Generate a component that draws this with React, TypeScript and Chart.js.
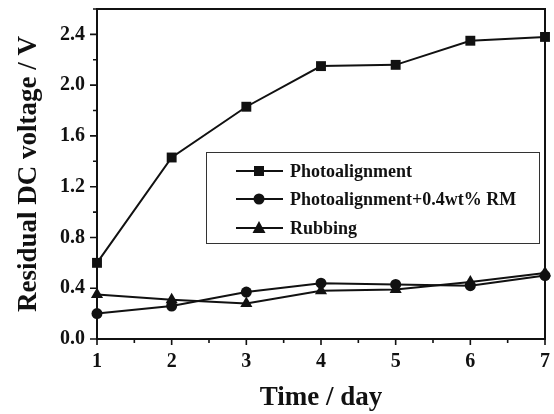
import React, { useEffect, useRef } from "react";
import { Chart, registerables } from "chart.js";

Chart.register(...registerables);

const days = [1, 2, 3, 4, 5, 6, 7];
const photoalignment = [0.6, 1.43, 1.83, 2.15, 2.16, 2.35, 2.38];
const photoalignmentRM = [0.2, 0.26, 0.37, 0.44, 0.43, 0.42, 0.5];
const rubbing = [0.35, 0.31, 0.28, 0.38, 0.39, 0.45, 0.52];
const seriesLabels = ["Photoalignment", "Photoalignment+0.4wt% RM", "Rubbing"];
const yMajorTicks = [0.0, 0.4, 0.8, 1.2, 1.6, 2.0, 2.4];
const yMinorTicks = [0.2, 0.6, 1.0, 1.4, 1.8, 2.2, 2.6];
const xMinorTicks = [1.5, 2.5, 3.5, 4.5, 5.5, 6.5];

const FONT = "'Liberation Serif', 'Times New Roman', serif";

const framePlugin = {
  id: "frame",
  afterDraw(chart: any) {
    const { ctx, chartArea } = chart;
    const { left, right, top, bottom } = chartArea;
    const xs = chart.scales.x;
    const ys = chart.scales.y;
    ctx.save();
    ctx.strokeStyle = "#111";
    ctx.lineWidth = 2;
    ctx.strokeRect(left, top, right - left, bottom - top);
    ctx.lineWidth = 1.6;
    ctx.beginPath();
    days.forEach((d) => {
      const px = xs.getPixelForValue(d);
      ctx.moveTo(px, bottom);
      ctx.lineTo(px, bottom + 6);
    });
    xMinorTicks.forEach((d) => {
      const px = xs.getPixelForValue(d);
      ctx.moveTo(px, bottom);
      ctx.lineTo(px, bottom + 4);
    });
    yMajorTicks.forEach((v) => {
      const py = ys.getPixelForValue(v);
      ctx.moveTo(left, py);
      ctx.lineTo(left - 7, py);
    });
    yMinorTicks.forEach((v) => {
      const py = ys.getPixelForValue(v);
      ctx.moveTo(left, py);
      ctx.lineTo(left - 4, py);
    });
    ctx.stroke();

    // legend
    const bx = 206, by = 152, bw = 333, bh = 91;
    ctx.lineWidth = 1;
    ctx.strokeStyle = "#333";
    ctx.fillStyle = "#fff";
    ctx.fillRect(bx, by, bw, bh);
    ctx.strokeRect(bx + 0.5, by + 0.5, bw, bh);
    const rows = [171, 199, 228];
    chart.data.datasets.forEach((ds: any, i: number) => {
      const y = rows[i];
      ctx.strokeStyle = "#111";
      ctx.lineWidth = 2;
      ctx.beginPath();
      ctx.moveTo(236, y);
      ctx.lineTo(283, y);
      ctx.stroke();
      ctx.fillStyle = "#111";
      const style = ds.pointStyle;
      ctx.beginPath();
      if (style === "rect") {
        ctx.fillRect(254, y - 5, 10, 10);
      } else if (style === "circle") {
        ctx.arc(259, y, 5.5, 0, Math.PI * 2);
        ctx.fill();
      } else {
        ctx.moveTo(259, y - 7);
        ctx.lineTo(265.5, y + 5);
        ctx.lineTo(252.5, y + 5);
        ctx.closePath();
        ctx.fill();
      }
      ctx.font = `bold 18px ${FONT}`;
      ctx.textBaseline = "middle";
      ctx.textAlign = "left";
      ctx.fillText(ds.label, 290, y + 1);
    });
    ctx.restore();
  },
};

export default function App() {
  const ref = useRef<HTMLCanvasElement>(null);
  useEffect(() => {
    if (!ref.current) return;
    const mk = (label: string, data: number[], style: string, radius: number) => ({
      label,
      data: days.map((d, i) => ({ x: d, y: data[i] })),
      borderColor: "#111",
      backgroundColor: "#111",
      borderWidth: 2,
      pointStyle: style,
      pointRadius: radius,
      pointBorderWidth: 0,
      pointBackgroundColor: "#111",
      tension: 0,
      clip: false as any,
    });
    const chart = new Chart(ref.current, {
      type: "line",
      data: {
        datasets: [
          mk(seriesLabels[0], photoalignment, "rect", 7),
          mk(seriesLabels[1], photoalignmentRM, "circle", 5.5),
          mk(seriesLabels[2], rubbing, "triangle", 7),
        ],
      },
      options: {
        animation: false,
        responsive: false,
        layout: { padding: { top: 9, right: 9, left: 0, bottom: 0 } },
        plugins: { legend: { display: false }, tooltip: { enabled: false } },
        scales: {
          x: {
            type: "linear",
            min: 1,
            max: 7,
            afterFit(scale: any) {
              scale.height = 75;
              scale.paddingLeft = 0;
              scale.paddingRight = 0;
            },
            afterBuildTicks(scale: any) {
              scale.ticks = days.map((d) => ({ value: d }));
            },
            grid: { display: false },
            border: { display: false },
            ticks: {
              padding: 3,
              color: "#111",
              font: { family: FONT, size: 20, weight: "bold" },
              callback: (v: any) => String(v),
            },
            title: {
              display: true,
              text: "Time / day",
              color: "#111",
              font: { family: FONT, size: 27, weight: "bold" },
              padding: { top: 0, bottom: 0 },
            },
          },
          y: {
            type: "linear",
            min: 0,
            max: 2.6,
            afterFit(scale: any) {
              scale.width = 97;
              scale.paddingTop = 0;
              scale.paddingBottom = 0;
            },
            afterBuildTicks(scale: any) {
              scale.ticks = yMajorTicks.map((v) => ({ value: v }));
            },
            grid: { display: false },
            border: { display: false },
            ticks: {
              padding: 4,
              color: "#111",
              font: { family: FONT, size: 20, weight: "bold" },
              callback: (v: any) => Number(v).toFixed(1),
            },
            title: {
              display: true,
              text: "Residual DC voltage / V",
              color: "#111",
              font: { family: FONT, size: 27, weight: "bold" },
              padding: { top: 13, bottom: 0 },
            },
          },
        },
      },
      plugins: [framePlugin],
    });
    return () => chart.destroy();
  }, []);
  return (
    <div style={{ position: "fixed", left: 0, top: 0, width: 554, height: 414, background: "#fff" }}>
      <canvas ref={ref} width={554} height={414} style={{ width: 554, height: 414 }} />
    </div>
  );
}
